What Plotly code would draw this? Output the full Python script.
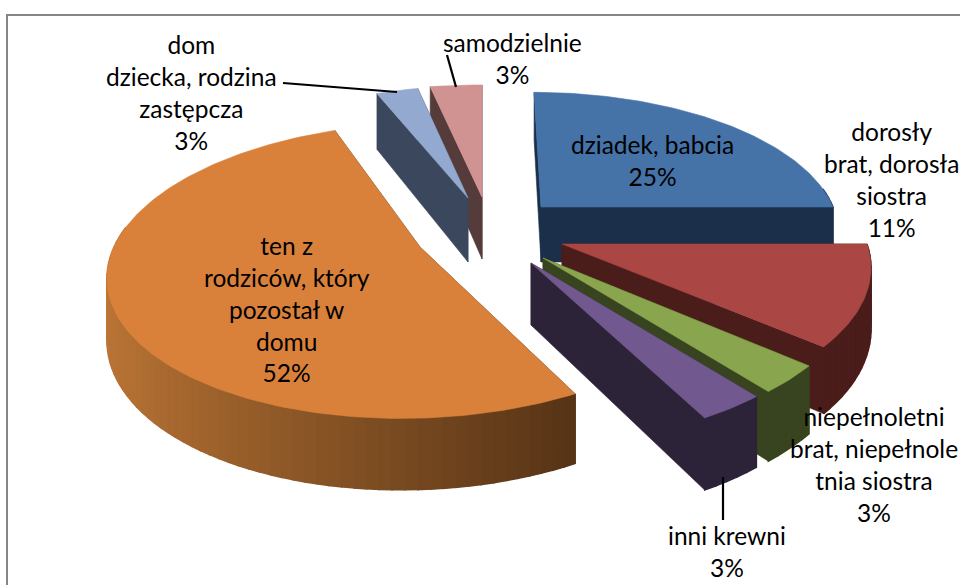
import math
import plotly.graph_objects as go

categories = ["dziadek, babcia", "dorosły brat, dorosła siostra", "niepełnoletni brat, niepełnoletnia siostra",
              "inni krewni", "ten z rodziców, który pozostał w domu", "dom dziecka, rodzina zastępcza", "samodzielnie"]
values = [25, 11, 3, 3, 52, 3, 3]
label_text = ["dziadek, babcia<br>25%", "dorosły<br>brat, dorosła<br>siostra<br>11%",
              "niepełnoletni<br>brat, niepełnole<br>tnia siostra<br>3%", "inni krewni<br>3%",
              "ten z<br>rodziców, który<br>pozostał w<br>domu<br>52%", "dom<br>dziecka, rodzina<br>zastępcza<br>3%",
              "samodzielnie<br>3%"]
top_colors = ["#4572A7", "#AA4643", "#89A54E", "#71588F", "#D9813B", "#93A9CF", "#D19392"]
radial_colors = ["#1B2F4B", "#4A1C1A", "#38441F", "#2D2339", "#5A3617", "#3A475C", "#553C3B"]
wall_light = ["#1B2F4B", "#4A1C1A", "#38441F", "#2D2339", "#BE7736", "#3A475C", "#553C3B"]
wall_dark = ["#1B2F4B", "#4A1C1A", "#38441F", "#2D2339", "#573416", "#3A475C", "#553C3B"]

# per-slice placement on the page: centre x, centre y, radius x, radius y, shear
placement = [(541, 207, 292, 133, -8), (562, 244, 305, 145, 0), (543, 258, 310, 152, 0), (531, 263, 310, 152, 0),
             (420, 247, 306, 144, 16), (468, 198, 260, 129, -9.6), (482, 197, 320, 130, 0)]
depth = [55, 60, 61, 62, 60, 64, 62]
tilt = 0.16
label_xy = [(652, 160), (891, 179), (874, 464), (727, 551), (287, 309), (191, 92), (512, 58)]


def hex_rgb(h):
    return tuple(int(h[i:i + 2], 16) for i in (1, 3, 5))


def mix(a, b, t):
    ra, rb = hex_rgb(a), hex_rgb(b)
    return "rgb(%d,%d,%d)" % tuple(round(x + (y - x) * t) for x, y in zip(ra, rb))


fig = go.Figure()


def poly(xs, ys, color, lw=0.6):
    fig.add_trace(go.Scatter(x=xs + xs[:1], y=ys + ys[:1], mode="lines", fill="toself", fillcolor=color,
                             line=dict(color=color, width=lw), hoverinfo="skip", showlegend=False))


order = [6, 5, 0, 1, 4, 2, 3]
starts = []
acc = 0
for v in values:
    starts.append(acc)
    acc += v

for i in order:
    cx, cy, rx, ry, sh = placement[i]
    d = depth[i]
    a0 = starts[i] / sum(values) * 2 * math.pi
    a1 = (starts[i] + values[i]) / sum(values) * 2 * math.pi

    def pt(a, r, z):
        u, v = r * math.sin(a), r * math.cos(a)
        w = 1 + tilt * v
        return cx + (rx * u + sh * v) / w, cy - ry * v / w + d * z / w

    faces = []
    for a in (a0, a1):
        p = [pt(a, 0, 0), pt(a, 1, 0), pt(a, 1, 1), pt(a, 0, 1)]
        faces.append((math.cos(a) / 2, [q[0] for q in p], [q[1] for q in p], radial_colors[i], 0.6))
    n = max(2, int((a1 - a0) / math.radians(2)))
    segs = [(a0 + (a1 - a0) * k / n, a0 + (a1 - a0) * (k + 1) / n) for k in range(n)]
    segs = [s for s in segs if math.cos((s[0] + s[1]) / 2) <= 0.15]
    if segs:
        us = [math.sin((s[0] + s[1]) / 2) for s in segs]
        lo, hi = min(us), max(us)
        for (b0, b1), um in zip(segs, us):
            p = [pt(b0, 1, 0), pt(b1, 1, 0), pt(b1, 1, 1), pt(b0, 1, 1)]
            t = (um - lo) / (hi - lo) if hi > lo else 0
            faces.append((math.cos((b0 + b1) / 2), [q[0] for q in p], [q[1] for q in p],
                          mix(wall_light[i], wall_dark[i], t), 1.5))
    for f in sorted(faces, key=lambda f: -f[0]):
        poly(f[1], f[2], f[3], f[4])
    m = max(4, int((a1 - a0) / math.radians(1)))
    rim = [pt(a0 + (a1 - a0) * k / m, 1, 0) for k in range(m + 1)]
    apex = pt(a0, 0, 0)
    poly([apex[0]] + [q[0] for q in rim], [apex[1]] + [q[1] for q in rim], top_colors[i])

# leader lines
leaders = [([283, 397], [83, 92]), ([447, 456], [55, 87]), ([723, 723], [477, 520])]
for lx, ly in leaders:
    fig.add_trace(go.Scatter(x=lx, y=ly, mode="lines", line=dict(color="black", width=2.2),
                             hoverinfo="skip", showlegend=False))

for txt, (x, y) in zip(label_text, label_xy):
    fig.add_annotation(x=x, y=y, text=txt, showarrow=False, xanchor="center", yanchor="middle", align="center",
                       font=dict(family="Lato, Carlito, sans-serif", size=24.5, color="black"))

fig.add_shape(type="rect", x0=7, y0=15, x1=990, y1=620, line=dict(color="#868686", width=2), layer="below")
fig.update_layout(width=960, height=585, margin=dict(l=0, r=0, t=0, b=0), paper_bgcolor="white",
                  plot_bgcolor="white", showlegend=False,
                  xaxis=dict(range=[0, 960], visible=False, fixedrange=True),
                  yaxis=dict(range=[585, 0], visible=False, fixedrange=True))
fig.write_html("out.html", config={"displayModeBar": False},
               post_script="document.body.style.margin='0';document.body.style.overflow='hidden';")
